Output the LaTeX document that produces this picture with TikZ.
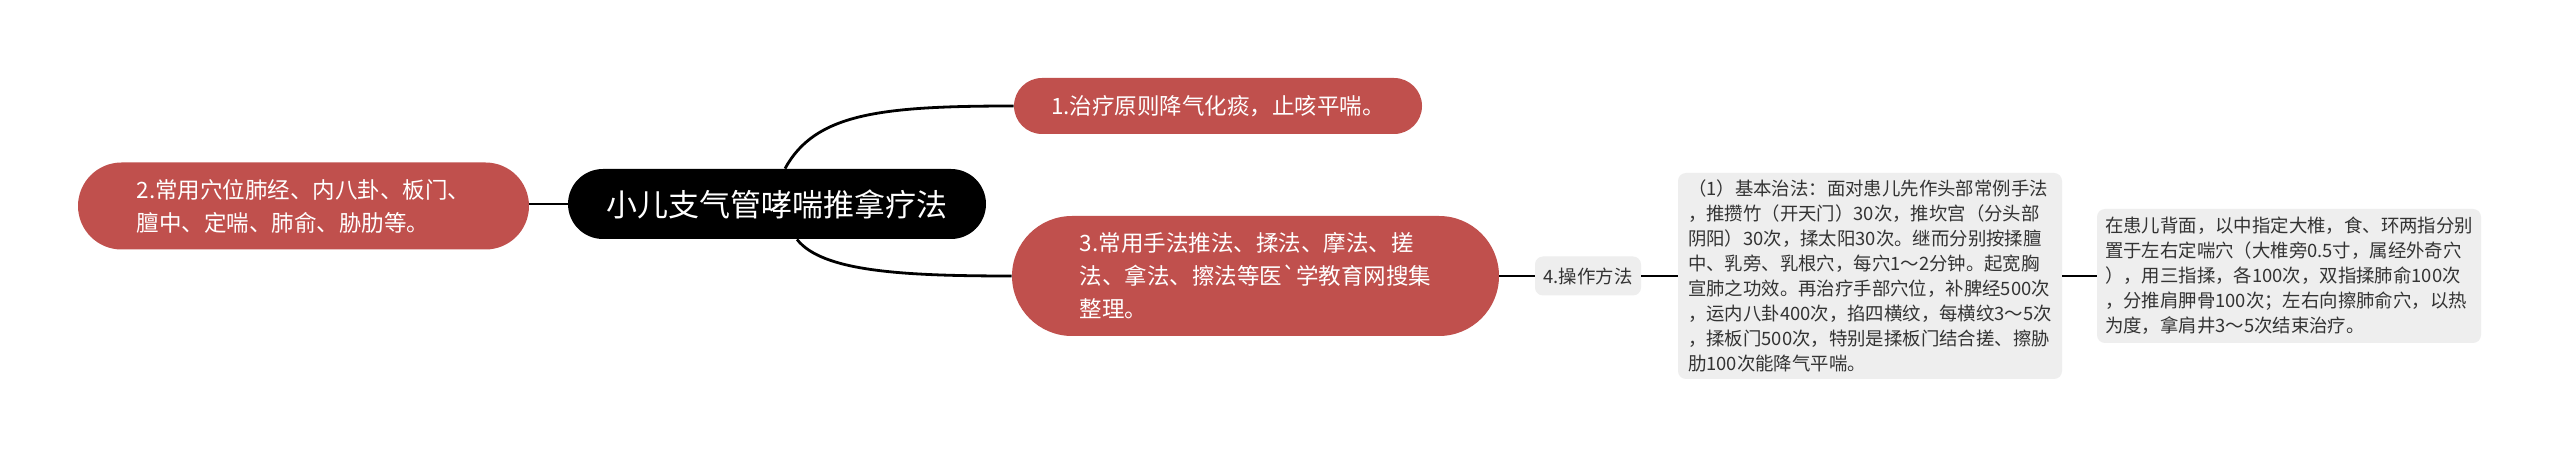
\documentclass[tikz,border=0pt]{standalone}
\usepackage{fontspec}
\newfontfamily\cjk{Noto Sans CJK SC}[Ligatures=TeXOff]
\usetikzlibrary{calc}
\definecolor{myred}{RGB}{192,80,77}
\definecolor{mygrey}{RGB}{238,238,238}
\definecolor{mytext}{RGB}{51,51,51}
\tikzset{
  root/.style={fill=black, text=white, font=\cjk\fontsize{15.5pt}{18pt}\selectfont, inner sep=0pt,
    minimum width=209pt, minimum height=35pt, rounded corners=17.5pt},
  topic/.style={fill=myred, text=white, font=\cjk\fontsize{11.25pt}{16.5pt}\selectfont, inner sep=0pt, align=left},
  subbox/.style={fill=mygrey, text=mytext, font=\cjk\fontsize{9.2pt}{12.5pt}\selectfont, inner sep=0pt, align=left, rounded corners=4pt},
  link/.style={draw=black, line width=1.4pt}
}
\begin{document}
\begin{tikzpicture}[x=0.5pt,y=-0.5pt]
\useasboundingbox[fill=white] (0,0) rectangle (2560,458);
\node[root] (root) at (777,204) {小儿支气管哮喘推拿疗法};
\node[topic, minimum width=225.5pt, minimum height=43.5pt, rounded corners=21.75pt] (n2) at (303.5,206)
  {2.常用穴位肺经、内八卦、板门、\\膻中、定喘、肺俞、胁肋等。};
\node[topic, minimum width=204pt, minimum height=28pt, rounded corners=14pt] (n1) at (1218,106)
  {1.治疗原则降气化痰，止咳平喘。};
\node[topic, minimum width=243.5pt, minimum height=60pt, rounded corners=30pt] (n3) at (1255.5,276)
  {3.常用手法推法、揉法、摩法、搓\\法、拿法、擦法等医`学教育网搜集\\整理。};
\node[subbox, minimum width=53pt, minimum height=19.5pt] (n4) at (1588,276) {4.操作方法};
\node[subbox, minimum width=192pt, minimum height=103pt] (big) at (1870,276)
  {（1）基本治法：面对患儿先作头部常例手法\\，推攒竹（开天门）30次，推坎宫（分头部\\阴阳）30次，揉太阳30次。继而分别按揉膻\\中、乳旁、乳根穴，每穴1～2分钟。起宽胸\\宣肺之功效。再治疗手部穴位，补脾经500次\\，运内八卦400次，掐四横纹，每横纹3～5次\\，揉板门500次，特别是揉板门结合搓、擦胁\\肋100次能降气平喘。};
\node[subbox, minimum width=192pt, minimum height=67pt] (rt) at (2289,276)
  {在患儿背面，以中指定大椎，食、环两指分别\\置于左右定喘穴（大椎旁0.5寸，属经外奇穴\\），用三指揉，各100次，双指揉肺俞100次\\，分推肩胛骨100次；左右向擦肺俞穴，以热\\为度，拿肩井3～5次结束治疗。};
\coordinate (r1) at ($(root.north)+(8,0)$);
\coordinate (r3) at ($(root.south)+(20,0)$);
\begin{scope}[on background layer/.style={}]
\draw[link] (root.west) -- (n2.east |- root.west);
\draw[link] (r1) .. controls ($(r1)+(30,-55)$) and ($(n1.west)+(-134,0)$) .. (n1.west);
\draw[link] (r3) .. controls ($(r3)+(25,32)$) and ($(n3.west)+(-110,0)$) .. (n3.west);
\draw[link] (n3.east) -- (n4.west);
\draw[link] (n4.east) -- (big.west);
\draw[link] (big.east) -- (rt.west);
\end{scope}
\end{tikzpicture}
\end{document}
